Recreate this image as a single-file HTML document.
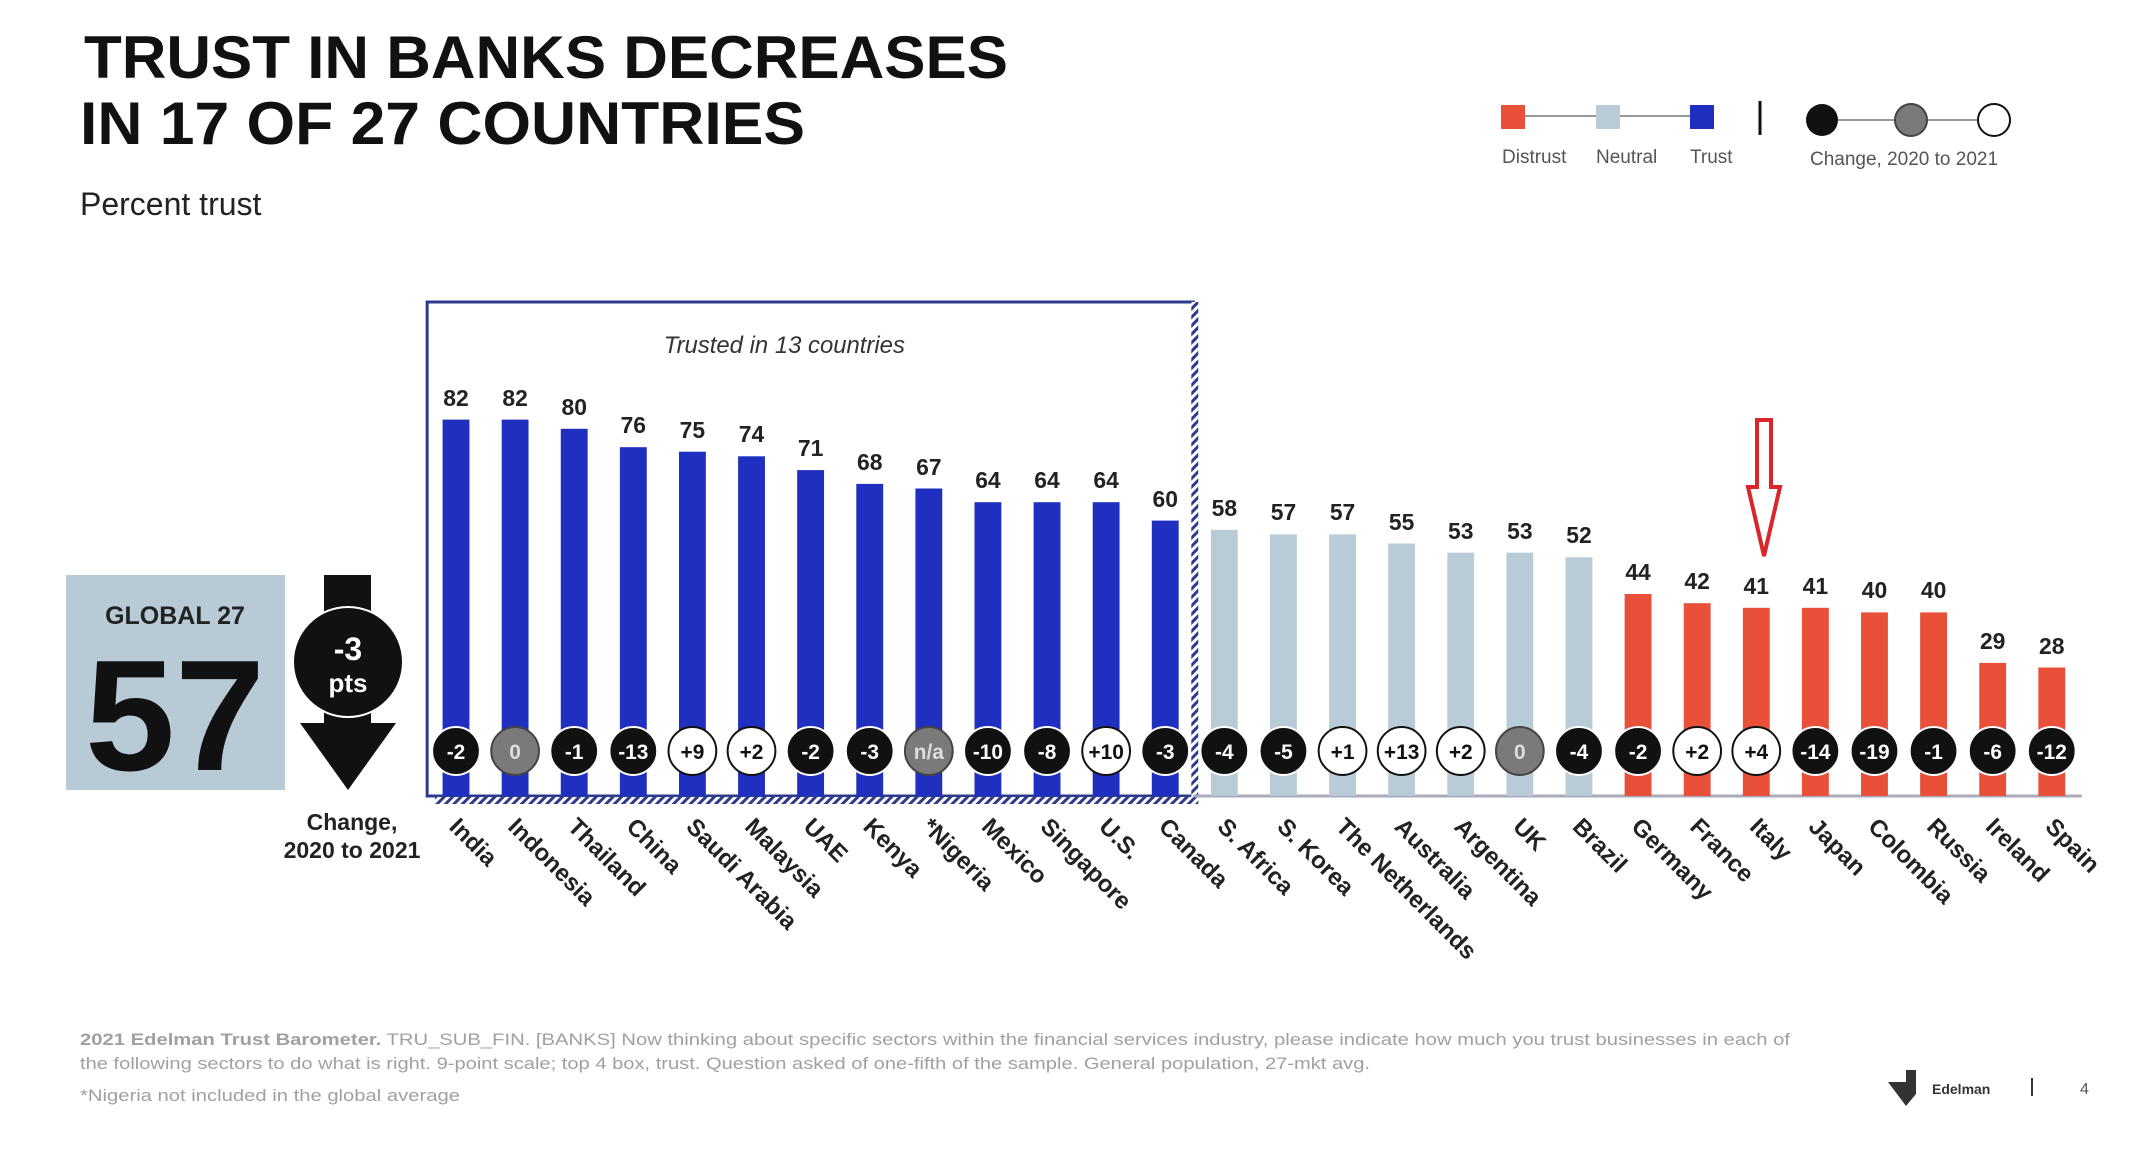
<!DOCTYPE html>
<html><head><meta charset="utf-8"><style>
html,body{margin:0;padding:0;background:#fff;}
svg{display:block;}
text{font-family:"Liberation Sans",Arial,sans-serif;}
.v{font-size:23px;font-weight:bold;text-anchor:middle;fill:#222;}
.c{font-size:21px;font-weight:bold;text-anchor:middle;}
.n{font-size:24px;font-weight:bold;fill:#222;}
</style></head><body>
<svg width="2130" height="1152" viewBox="0 0 2130 1152" xmlns="http://www.w3.org/2000/svg">
<defs>
<pattern id="h" width="6" height="6" patternUnits="userSpaceOnUse" patternTransform="rotate(45)">
<rect width="6" height="6" fill="#fff"/><rect width="3" height="6" fill="#2e3a8c"/></pattern>
</defs>
<text x="84" y="78" font-size="60" font-weight="bold" fill="#111" textLength="924" lengthAdjust="spacingAndGlyphs">TRUST IN BANKS DECREASES</text>
<text x="80" y="144" font-size="60" font-weight="bold" fill="#111" textLength="725" lengthAdjust="spacingAndGlyphs">IN 17 OF 27 COUNTRIES</text>
<text x="80" y="215" font-size="32" fill="#222">Percent trust</text>

<!-- legend -->
<line x1="1512" y1="116" x2="1701" y2="116" stroke="#999" stroke-width="2"/>
<rect x="1501" y="105" width="24" height="24" fill="#e8503a"/>
<rect x="1596" y="105" width="24" height="24" fill="#b8cbd6"/>
<rect x="1690" y="105" width="24" height="24" fill="#1f2fbf"/>
<text x="1502" y="163" font-size="19" fill="#555">Distrust</text>
<text x="1596" y="163" font-size="19" fill="#555">Neutral</text>
<text x="1690" y="163" font-size="19" fill="#555">Trust</text>
<line x1="1760" y1="101" x2="1760" y2="135" stroke="#111" stroke-width="3"/>
<line x1="1820" y1="120" x2="1993" y2="120" stroke="#999" stroke-width="2"/>
<circle cx="1822" cy="120" r="16" fill="#111"/>
<circle cx="1911" cy="120" r="16" fill="#7a7a7a" stroke="#444" stroke-width="2"/>
<circle cx="1994" cy="120" r="16" fill="#fff" stroke="#111" stroke-width="2"/>
<text x="1904" y="165" font-size="19" fill="#555" text-anchor="middle">Change, 2020 to 2021</text>

<!-- global -->
<rect x="66" y="575" width="219" height="215" fill="#b7cad5"/>
<text x="175" y="624" font-size="25" font-weight="bold" fill="#222" text-anchor="middle">GLOBAL  27</text>
<text x="175" y="770" font-size="158" font-weight="bold" fill="#111" text-anchor="middle" textLength="180" lengthAdjust="spacingAndGlyphs">57</text>
<rect x="324" y="575" width="47" height="150" fill="#111"/>
<polygon points="300,723 396,723 348,790" fill="#111"/>
<circle cx="348" cy="662" r="55" fill="#111" stroke="#fff" stroke-width="2"/>
<text x="348" y="660" font-size="32" font-weight="bold" fill="#fff" text-anchor="middle">-3</text>
<text x="348" y="692" font-size="26" font-weight="bold" fill="#fff" text-anchor="middle">pts</text>
<text x="352" y="830" font-size="23" font-weight="bold" fill="#222" text-anchor="middle">Change,</text>
<text x="352" y="858" font-size="23" font-weight="bold" fill="#222" text-anchor="middle">2020 to 2021</text>

<g transform="translate(456,0) scale(0.995,1) translate(-456,0)">
<!-- box -->
<rect x="427" y="302" width="770" height="494" fill="none" stroke="#2e3a8c" stroke-width="3"/>
<rect x="1195" y="302" width="7" height="500" fill="url(#h)"/>
<rect x="435" y="797" width="767" height="7" fill="url(#h)"/>
<text x="786" y="353" font-size="24" font-style="italic" fill="#333" text-anchor="middle">Trusted in 13 countries</text>
<line x1="1197" y1="796" x2="2090" y2="796" stroke="#aab" stroke-width="3"/>

<!-- bars -->
<g fill="#1f2fbf">
<rect x="442.5" y="419.6" width="27" height="376.4"/>
<rect x="501.9" y="419.6" width="27" height="376.4"/>
<rect x="561.3" y="428.8" width="27" height="367.2"/>
<rect x="620.7" y="447.2" width="27" height="348.8"/>
<rect x="680.1" y="451.7" width="27" height="344.3"/>
<rect x="739.5" y="456.3" width="27" height="339.7"/>
<rect x="798.9" y="470.1" width="27" height="325.9"/>
<rect x="858.3" y="483.9" width="27" height="312.1"/>
<rect x="917.7" y="488.5" width="27" height="307.5"/>
<rect x="977.1" y="502.2" width="27" height="293.8"/>
<rect x="1036.5" y="502.2" width="27" height="293.8"/>
<rect x="1095.9" y="502.2" width="27" height="293.8"/>
<rect x="1155.3" y="520.6" width="27" height="275.4"/>
</g>
<g fill="#b8cbd6">
<rect x="1214.7" y="529.8" width="27" height="266.2"/>
<rect x="1274.1" y="534.4" width="27" height="261.6"/>
<rect x="1333.5" y="534.4" width="27" height="261.6"/>
<rect x="1392.9" y="543.5" width="27" height="252.5"/>
<rect x="1452.3" y="552.7" width="27" height="243.3"/>
<rect x="1511.7" y="552.7" width="27" height="243.3"/>
<rect x="1571.1" y="557.3" width="27" height="238.7"/>
</g>
<g fill="#e8503a">
<rect x="1630.5" y="594" width="27" height="202"/>
<rect x="1689.9" y="603.2" width="27" height="192.8"/>
<rect x="1749.3" y="607.8" width="27" height="188.2"/>
<rect x="1808.7" y="607.8" width="27" height="188.2"/>
<rect x="1868.1" y="612.4" width="27" height="183.6"/>
<rect x="1927.5" y="612.4" width="27" height="183.6"/>
<rect x="1986.9" y="662.9" width="27" height="133.1"/>
<rect x="2046.3" y="667.5" width="27" height="128.5"/>
</g>

<!-- values -->
<g class="v">
<text class="v" x="456" y="406">82</text>
<text class="v" x="515.4" y="406">82</text>
<text class="v" x="574.8" y="415">80</text>
<text class="v" x="634.2" y="433">76</text>
<text class="v" x="693.6" y="438">75</text>
<text class="v" x="753" y="442">74</text>
<text class="v" x="812.4" y="456">71</text>
<text class="v" x="871.8" y="470">68</text>
<text class="v" x="931.2" y="475">67</text>
<text class="v" x="990.6" y="488">64</text>
<text class="v" x="1050" y="488">64</text>
<text class="v" x="1109.4" y="488">64</text>
<text class="v" x="1168.8" y="507">60</text>
<text class="v" x="1228.2" y="516">58</text>
<text class="v" x="1287.6" y="520">57</text>
<text class="v" x="1347" y="520">57</text>
<text class="v" x="1406.4" y="530">55</text>
<text class="v" x="1465.8" y="539">53</text>
<text class="v" x="1525.2" y="539">53</text>
<text class="v" x="1584.6" y="543">52</text>
<text class="v" x="1644" y="580">44</text>
<text class="v" x="1703.4" y="589">42</text>
<text class="v" x="1762.8" y="594">41</text>
<text class="v" x="1822.2" y="594">41</text>
<text class="v" x="1881.6" y="598">40</text>
<text class="v" x="1941" y="598">40</text>
<text class="v" x="2000.4" y="649">29</text>
<text class="v" x="2059.8" y="654">28</text>
</g>

<!-- change circles -->
<g transform="translate(0,-4)">
<g stroke="#fff" stroke-width="2">
<circle cx="456" cy="755" r="24" fill="#111"/>
<circle cx="515.4" cy="755" r="24" fill="#7a7a7a" stroke="#444"/>
<circle cx="574.8" cy="755" r="24" fill="#111"/>
<circle cx="634.2" cy="755" r="24" fill="#111"/>
<circle cx="693.6" cy="755" r="24" fill="#fff" stroke="#111"/>
<circle cx="753" cy="755" r="24" fill="#fff" stroke="#111"/>
<circle cx="812.4" cy="755" r="24" fill="#111"/>
<circle cx="871.8" cy="755" r="24" fill="#111"/>
<circle cx="931.2" cy="755" r="24" fill="#7a7a7a" stroke="#444"/>
<circle cx="990.6" cy="755" r="24" fill="#111"/>
<circle cx="1050" cy="755" r="24" fill="#111"/>
<circle cx="1109.4" cy="755" r="24" fill="#fff" stroke="#111"/>
<circle cx="1168.8" cy="755" r="24" fill="#111"/>
<circle cx="1228.2" cy="755" r="24" fill="#111"/>
<circle cx="1287.6" cy="755" r="24" fill="#111"/>
<circle cx="1347" cy="755" r="24" fill="#fff" stroke="#111"/>
<circle cx="1406.4" cy="755" r="24" fill="#fff" stroke="#111"/>
<circle cx="1465.8" cy="755" r="24" fill="#fff" stroke="#111"/>
<circle cx="1525.2" cy="755" r="24" fill="#7a7a7a" stroke="#444"/>
<circle cx="1584.6" cy="755" r="24" fill="#111"/>
<circle cx="1644" cy="755" r="24" fill="#111"/>
<circle cx="1703.4" cy="755" r="24" fill="#fff" stroke="#111"/>
<circle cx="1762.8" cy="755" r="24" fill="#fff" stroke="#111"/>
<circle cx="1822.2" cy="755" r="24" fill="#111"/>
<circle cx="1881.6" cy="755" r="24" fill="#111"/>
<circle cx="1941" cy="755" r="24" fill="#111"/>
<circle cx="2000.4" cy="755" r="24" fill="#111"/>
<circle cx="2059.8" cy="755" r="24" fill="#111"/>
</g>
<g class="c">
<text class="c" x="456" y="763" fill="#fff">-2</text>
<text class="c" x="515.4" y="763" fill="#ddd">0</text>
<text class="c" x="574.8" y="763" fill="#fff">-1</text>
<text class="c" x="634.2" y="763" fill="#fff">-13</text>
<text class="c" x="693.6" y="763" fill="#111">+9</text>
<text class="c" x="753" y="763" fill="#111">+2</text>
<text class="c" x="812.4" y="763" fill="#fff">-2</text>
<text class="c" x="871.8" y="763" fill="#fff">-3</text>
<text class="c" x="931.2" y="763" fill="#ddd">n/a</text>
<text class="c" x="990.6" y="763" fill="#fff">-10</text>
<text class="c" x="1050" y="763" fill="#fff">-8</text>
<text class="c" x="1109.4" y="763" fill="#111">+10</text>
<text class="c" x="1168.8" y="763" fill="#fff">-3</text>
<text class="c" x="1228.2" y="763" fill="#fff">-4</text>
<text class="c" x="1287.6" y="763" fill="#fff">-5</text>
<text class="c" x="1347" y="763" fill="#111">+1</text>
<text class="c" x="1406.4" y="763" fill="#111">+13</text>
<text class="c" x="1465.8" y="763" fill="#111">+2</text>
<text class="c" x="1525.2" y="763" fill="#ddd">0</text>
<text class="c" x="1584.6" y="763" fill="#fff">-4</text>
<text class="c" x="1644" y="763" fill="#fff">-2</text>
<text class="c" x="1703.4" y="763" fill="#111">+2</text>
<text class="c" x="1762.8" y="763" fill="#111">+4</text>
<text class="c" x="1822.2" y="763" fill="#fff">-14</text>
<text class="c" x="1881.6" y="763" fill="#fff">-19</text>
<text class="c" x="1941" y="763" fill="#fff">-1</text>
<text class="c" x="2000.4" y="763" fill="#fff">-6</text>
<text class="c" x="2059.8" y="763" fill="#fff">-12</text>
</g>
</g>

<!-- country labels -->
<g class="n">
<text class="n" transform="translate(448,828) rotate(45)">India</text>
<text class="n" transform="translate(507,828) rotate(45)">Indonesia</text>
<text class="n" transform="translate(567,828) rotate(45)">Thailand</text>
<text class="n" transform="translate(626,828) rotate(45)">China</text>
<text class="n" transform="translate(686,828) rotate(45)">Saudi Arabia</text>
<text class="n" transform="translate(745,828) rotate(45)">Malaysia</text>
<text class="n" transform="translate(804,828) rotate(45)">UAE</text>
<text class="n" transform="translate(864,828) rotate(45)">Kenya</text>
<text class="n" transform="translate(923,828) rotate(45)">*Nigeria</text>
<text class="n" transform="translate(983,828) rotate(45)">Mexico</text>
<text class="n" transform="translate(1042,828) rotate(45)">Singapore</text>
<text class="n" transform="translate(1101,828) rotate(45)">U.S.</text>
<text class="n" transform="translate(1161,828) rotate(45)">Canada</text>
<text class="n" transform="translate(1220,828) rotate(45)">S. Africa</text>
<text class="n" transform="translate(1280,828) rotate(45)">S. Korea</text>
<text class="n" transform="translate(1339,828) rotate(45)">The Netherlands</text>
<text class="n" transform="translate(1398,828) rotate(45)">Australia</text>
<text class="n" transform="translate(1458,828) rotate(45)">Argentina</text>
<text class="n" transform="translate(1517,828) rotate(45)">UK</text>
<text class="n" transform="translate(1577,828) rotate(45)">Brazil</text>
<text class="n" transform="translate(1636,828) rotate(45)">Germany</text>
<text class="n" transform="translate(1695,828) rotate(45)">France</text>
<text class="n" transform="translate(1755,828) rotate(45)">Italy</text>
<text class="n" transform="translate(1814,828) rotate(45)">Japan</text>
<text class="n" transform="translate(1874,828) rotate(45)">Colombia</text>
<text class="n" transform="translate(1933,828) rotate(45)">Russia</text>
<text class="n" transform="translate(1992,828) rotate(45)">Ireland</text>
<text class="n" transform="translate(2052,828) rotate(45)">Spain</text>
</g>
</g>

<!-- red arrow -->
<polygon points="1757,420 1771,420 1771,487 1780,487 1764,556 1748,487 1757,487" fill="none" stroke="#d9262b" stroke-width="4"/>

<!-- footer -->
<text x="80" y="1045" font-size="17" fill="#a0a0a0" textLength="1710" lengthAdjust="spacingAndGlyphs"><tspan font-weight="bold">2021 Edelman Trust Barometer.</tspan> TRU_SUB_FIN. [BANKS] Now thinking about specific sectors within the financial services industry, please indicate how much you trust businesses in each of</text>
<text x="80" y="1069" font-size="17" fill="#a0a0a0" textLength="1290" lengthAdjust="spacingAndGlyphs">the following sectors to do what is right. 9-point scale; top 4 box, trust. Question asked of one-fifth of the sample. General population, 27-mkt avg.</text>
<text x="80" y="1101" font-size="17" fill="#a0a0a0" textLength="380" lengthAdjust="spacingAndGlyphs">*Nigeria not included in the global average</text>
<polygon points="1888,1082 1906,1082 1906,1070 1916,1070 1916,1094 1906,1106" fill="#333"/>
<text x="1932" y="1094" font-size="14" font-weight="bold" fill="#333">Edelman</text>
<line x1="2032" y1="1078" x2="2032" y2="1096" stroke="#333" stroke-width="2"/>
<text x="2080" y="1094" font-size="16" fill="#555">4</text>
</svg>
</body></html>
